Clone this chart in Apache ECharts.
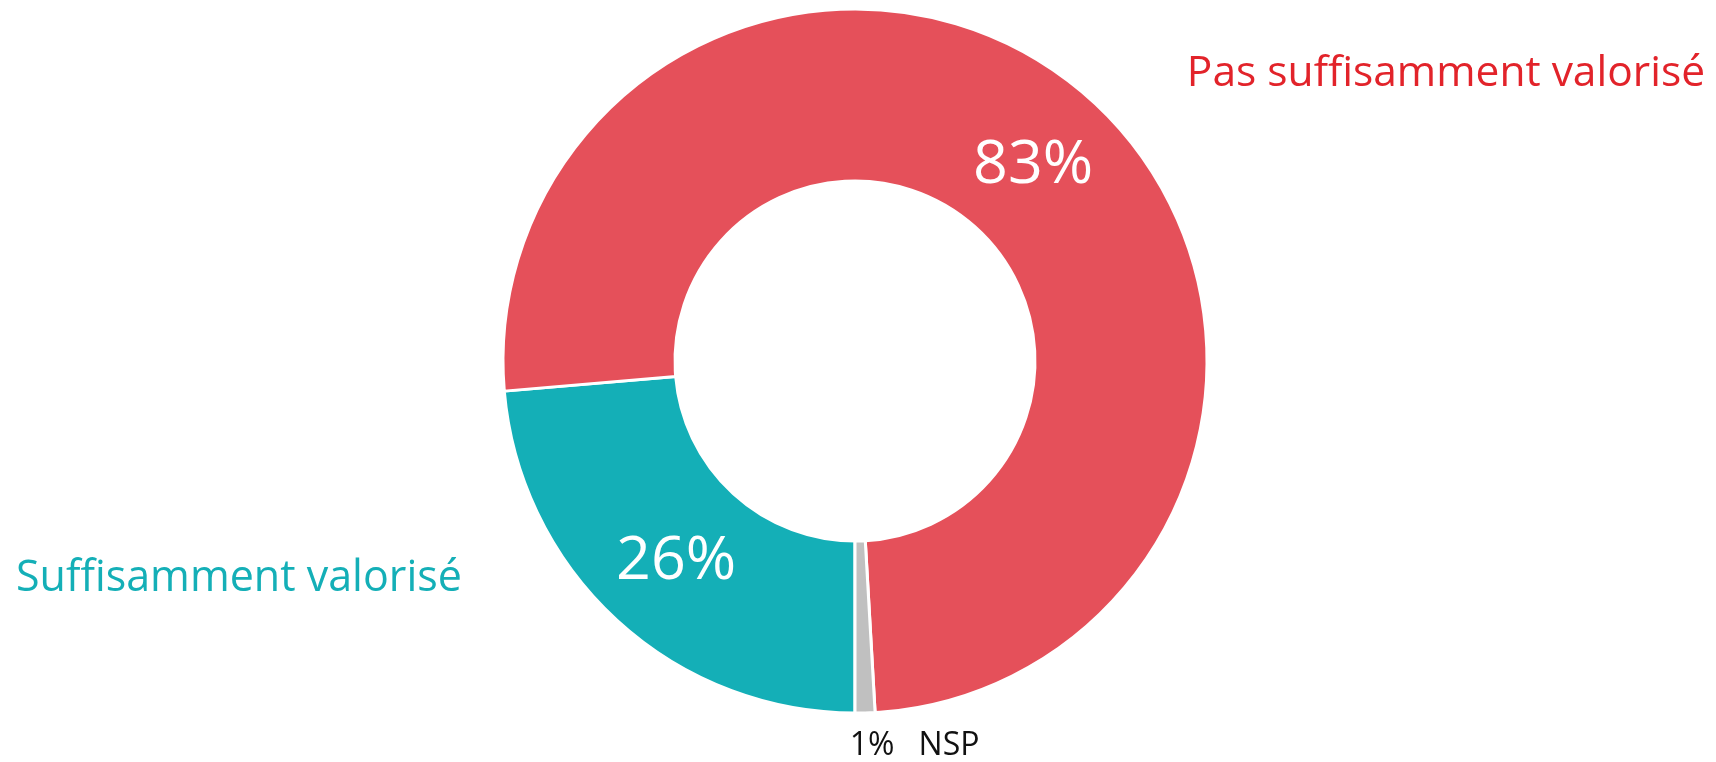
<!DOCTYPE html>
<html>
<head>
<meta charset="utf-8">
<script src="https://cdn.jsdelivr.net/npm/echarts@6/dist/echarts.min.js"></script>
<style>
  html, body { margin: 0; padding: 0; background: #fff; }
  #chart { width: 1716px; height: 762px; }
</style>
</head>
<body>
<div id="chart"></div>
<script>
const categories = ['Suffisamment valorisé', 'Pas suffisamment valorisé', 'NSP']
const values = [26, 83, 1]
const sliceColors = ['#14AFB7', '#E5505A', '#C0C0C0']
const nameColors = ['#14AFB7', '#E2232A', '#111111']
const labelOffsets = [[3, 2], [2, 8], [0, 0]]

const font = '"Open Sans", "Noto Sans", sans-serif'

const chart = echarts.init(document.getElementById('chart'), null, { renderer: 'canvas' })

const data = values.map((v, i) => ({
  name: categories[i],
  value: v,
  itemStyle: { color: sliceColors[i] },
  label: { show: i < 2, offset: labelOffsets[i] }
}))

chart.setOption({
  animation: false,
  backgroundColor: '#fff',
  series: [{
    type: 'pie',
    center: [855, 361],
    radius: [180, 352],
    startAngle: 270,
    clockwise: true,
    itemStyle: { borderColor: '#fff', borderWidth: 3 },
    label: {
      position: 'inside',
      formatter: (p) => p.value + '%',
      color: '#fff',
      fontFamily: font,
      fontSize: 61
    },
    labelLine: { show: false },
    emphasis: { disabled: true },
    data
  }],
  graphic: [
    {
      type: 'text', right: 1716 - 1705, top: 52,
      style: { text: categories[1], fill: nameColors[1], font: '42.5px ' + font }
    },
    {
      type: 'text', left: 16, top: 557,
      style: { text: categories[0], fill: nameColors[0], font: '43px ' + font }
    },
    {
      type: 'text', x: 872, y: 746,
      style: { text: values[2] + '%', fill: nameColors[2], font: '32px ' + font, align: 'center', verticalAlign: 'middle' }
    },
    {
      type: 'text', x: 949, y: 746,
      style: { text: categories[2], fill: nameColors[2], font: '32px ' + font, align: 'center', verticalAlign: 'middle' }
    }
  ]
})
</script>
</body>
</html>
